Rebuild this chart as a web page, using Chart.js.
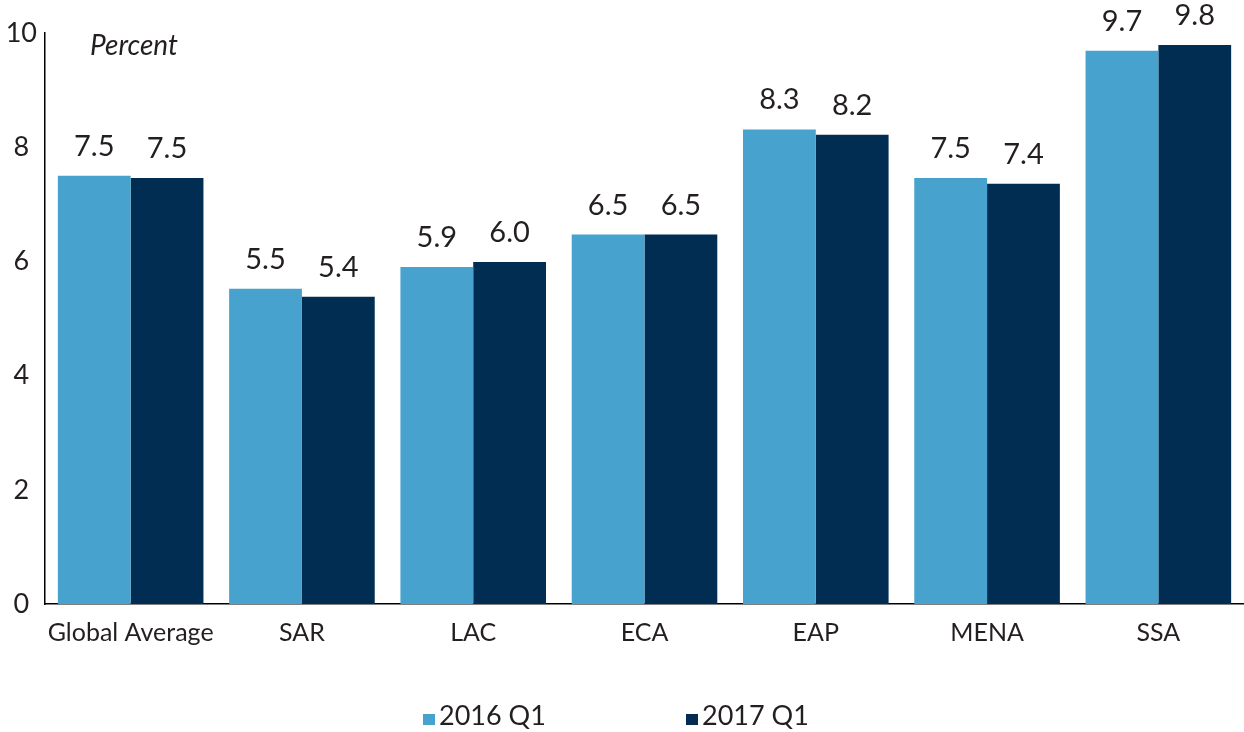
<!DOCTYPE html>
<html>
<head>
<meta charset="utf-8">
<script src="https://cdn.jsdelivr.net/npm/chart.js@4/dist/chart.umd.min.js"></script>
<style>
  html, body { margin: 0; padding: 0; background: #fff; }
  #wrap { width: 1244px; height: 732px; }
</style>
</head>
<body>
<div id="wrap"><canvas id="myChart"></canvas></div>
<script>
// Daten
const regions = ["Global Average", "SAR", "LAC", "ECA", "EAP", "MENA", "SSA"];
const q1_2016 = [7.5, 5.52, 5.9, 6.47, 8.31, 7.46, 9.69];
const q1_2017 = [7.46, 5.38, 5.99, 6.47, 8.22, 7.36, 9.79];
const seriesNames = ["2016 Q1", "2017 Q1"];
const yTicks = [0, 2, 4, 6, 8, 10];

const fontName = "Lato, 'Open Sans', sans-serif";
const textColor = "#231f20";

// Werte über den Balken
const valueLabels = {
  id: "valueLabels",
  afterDatasetsDraw(chart) {
    const ctx = chart.ctx;
    ctx.save();
    ctx.font = "29px " + fontName;
    ctx.fillStyle = textColor;
    ctx.textAlign = "center";
    ctx.textBaseline = "alphabetic";
    chart.data.datasets.forEach((ds, i) => {
      chart.getDatasetMeta(i).data.forEach((bar, j) => {
        ctx.fillText(ds.data[j].toFixed(1), bar.x, bar.y - 20);
      });
    });
    // "Percent" Beschriftung
    ctx.font = "italic 28px " + fontName;
    ctx.textAlign = "left";
    ctx.fillText("Percent", chart.chartArea.left + 45, chart.chartArea.top + 22);
    ctx.restore();
  }
};

// Eigene Legende unten
const bottomLegend = {
  id: "bottomLegend",
  afterDraw(chart) {
    const ctx = chart.ctx;
    const starts = [423, 686];
    ctx.save();
    ctx.font = "27px " + fontName;
    ctx.textBaseline = "alphabetic";
    ctx.textAlign = "left";
    chart.data.datasets.forEach((ds, i) => {
      const x = starts[i];
      const base = 725;
      ctx.fillStyle = ds.backgroundColor;
      ctx.fillRect(x, base - 11, 12, 11);
      ctx.fillStyle = textColor;
      ctx.fillText(ds.label, x + 16, base);
    });
    ctx.restore();
  }
};

let ctx = document.getElementById("myChart").getContext("2d");
new Chart(ctx, {
  type: "bar",
  data: {
    labels: regions,
    datasets: [
      { label: seriesNames[0], data: q1_2016, backgroundColor: "#47a3cd" },
      { label: seriesNames[1], data: q1_2017, backgroundColor: "#002d51" }
    ]
  },
  options: {
    responsive: true,
    maintainAspectRatio: false,
    animation: false,
    layout: { padding: { top: 33, right: 0, bottom: 70, left: 0 } },
    datasets: { bar: { categoryPercentage: 0.85, barPercentage: 1.0 } },
    plugins: {
      legend: { display: false },
      tooltip: { enabled: false }
    },
    scales: {
      x: {
        grid: { display: false, drawTicks: false },
        border: { color: "#000", width: 1.5 },
        ticks: {
          color: textColor,
          font: { family: fontName, size: 25 },
          padding: 14,
          maxRotation: 0
        }
      },
      y: {
        min: 0,
        max: 10,
        afterBuildTicks(axis) {
          axis.ticks = yTicks.map(v => ({ value: v }));
        },
        afterFit(axis) { axis.width = 45; },
        grid: { display: false, drawTicks: false },
        border: { color: "#000", width: 1.5 },
        ticks: {
          color: textColor,
          font: { family: fontName, size: 27 },
          padding: 8,
          crossAlign: "center"
        }
      }
    }
  },
  plugins: [valueLabels, bottomLegend]
});
</script>
</body>
</html>
